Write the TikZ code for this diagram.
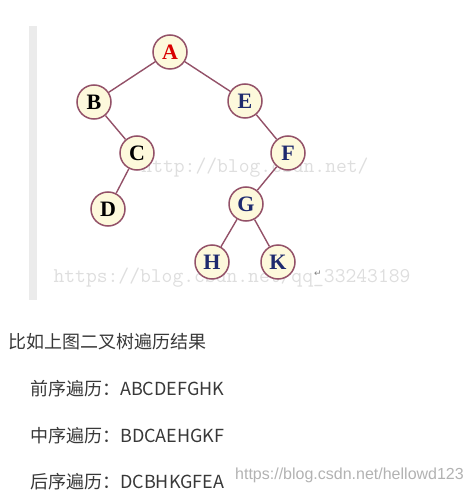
\documentclass[tikz,border=0pt]{standalone}
\usepackage{fontspec}
\setmainfont{Liberation Serif}
\setsansfont{Liberation Sans}
\newfontfamily\cjk{Noto Sans CJK SC}
\newfontfamily\symfont{DejaVu Sans}
\definecolor{edgec}{HTML}{935168}
\definecolor{fillc}{HTML}{FDF9DC}
\definecolor{navy}{HTML}{1E2A6E}
\definecolor{txt}{HTML}{383838}
\definecolor{markc}{HTML}{DEDEDE}
\begin{document}
\begin{tikzpicture}[x=1pt,y=-1pt,
    vert/.style={circle,draw=edgec,line width=1.5pt,fill=fillc,minimum size=34pt,
      inner sep=0pt,font=\fontsize{22}{22}\selectfont\bfseries},
    wmark/.style={text=markc,inner sep=0pt,font=\ttfamily\fontsize{21}{21}\selectfont},
    resline/.style={anchor=west,inner sep=0pt,text=txt,font=\cjk\fontsize{18}{18}\selectfont}]
  \useasboundingbox (0,0) rectangle (472,494);
  \fill[black!8] (29,26) rectangle (37,300);
  % watermarks behind the tree
  \node[wmark] (m1) at (255,168) {http://blog.csdn.net/};
  \node[wmark] (m2) at (232,278) {https://blog.csdn.net/qq\_33243189};
  \node[text=gray,inner sep=0pt,font=\symfont\fontsize{9}{9}\selectfont] (ret) at (318,274) {↵};
  \draw
    (170,52) node[vert,text=red!85!black] (A){A}
    (94,102) node[vert,text=black] (B){B}
    (245,101) node[vert,text=navy] (E){E}
    (137,153) node[vert,text=black] (C){C}
    (288,153) node[vert,text=navy] (F){F}
    (108,209) node[vert,text=black] (D){D}
    (246,204) node[vert,text=navy] (G){G}
    (212,262) node[vert,text=navy] (H){H}
    (278,262) node[vert,text=navy] (K){K};
  \begin{scope}[edgec,line width=1.4pt]
    \draw (A) to (B);
    \draw (A) to (E);
    \draw (B) to (C);
    \draw (C) to (D);
    \draw (E) to (F);
    \draw (F) to (G);
    \draw (G) to (H);
    \draw (G) to (K);
  \end{scope}
  % traversal results
  \node[resline] (t0) at (8,342) {比如上图二叉树遍历结果};
  \node[resline] (t1) at (30,389) {前序遍历：ABCDEFGHK};
  \node[resline] (t2) at (30,436) {中序遍历：BDCAEHGKF};
  \node[resline] (t3) at (30,482) {后序遍历：DCBHKGFEA};
  \node[anchor=west,inner sep=0pt,text=black!30,font=\sffamily\fontsize{16}{16}\selectfont] (m3) at (235,475) {https://blog.csdn.net/hellowd123};
\end{tikzpicture}
\end{document}
